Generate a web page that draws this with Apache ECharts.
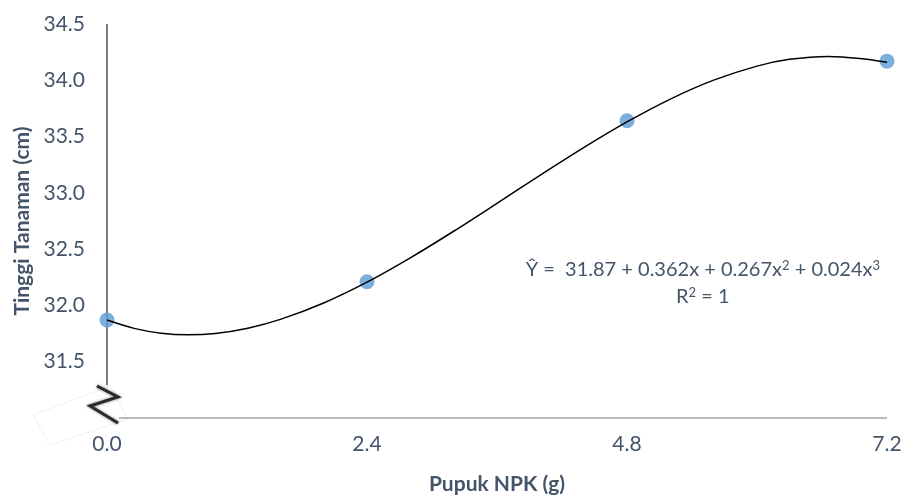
<!DOCTYPE html>
<html><head><meta charset="utf-8">
<script src="https://cdn.jsdelivr.net/npm/echarts@6/dist/echarts.min.js"></script>
<style>html,body{margin:0;padding:0;background:#fff}#c{width:906px;height:500px}</style>
</head><body><div id="c"></div>
<script>
// Observed data
const doseX = [0.0, 2.4, 4.8, 7.2];
const heightY = [31.87, 32.21, 33.64, 34.17];
// Trendline
const trendX = [0, 0.25, 0.5, 0.75, 1.0, 1.3, 1.6, 2.0, 2.4, 2.8, 3.2, 3.6, 4.0, 4.4, 4.8, 5.2, 5.6, 6.0, 6.3, 6.66, 6.95, 7.2];
const trendY = [31.87, 31.796, 31.753, 31.739, 31.751, 31.798, 31.876, 32.022, 32.207, 32.423, 32.659, 32.907, 33.158, 33.402, 33.63, 33.833, 34.001, 34.126, 34.186, 34.212, 34.194, 34.16];
const xTicks = [0, 2.4, 4.8, 7.2];
const yTicks = [31.5, 32.0, 32.5, 33.0, 33.5, 34.0, 34.5];
const xTitle = 'Pupuk NPK (g)';
const yTitle = 'Tinggi Tanaman (cm)';
const eqLine1 = 'Ŷ =  31.87 + 0.362x + 0.267x{s|2} + 0.024x{s|3}';
const eqLine2 = 'R{s|2} = 1';

const FONT = 'Lato, "Open Sans", sans-serif';
const TXT = '#44546a';
const chart = echarts.init(document.getElementById('c'), null, {renderer: 'canvas'});
const option = {
  animation: false,
  grid: {left: 107, right: 19, top: 24, bottom: 80},
  xAxis: {
    type: 'value', min: 0, max: 7.2, interval: 2.4,
    axisLine: {show: false}, axisTick: {show: false}, splitLine: {show: false},
    axisLabel: {color: TXT, fontSize: 21, fontFamily: FONT, margin: 16,
      formatter: v => xTicks.some(t => Math.abs(t - v) < 1e-6) ? v.toFixed(1) : ''},
    name: xTitle, nameLocation: 'middle', nameGap: 56,
    nameTextStyle: {color: TXT, fontSize: 21, fontWeight: 'bold', fontFamily: FONT}
  },
  yAxis: {
    type: 'value', min: 31, max: 34.5, interval: 0.5,
    axisLine: {show: false}, axisTick: {show: false}, splitLine: {show: false},
    axisLabel: {color: TXT, fontSize: 21, fontFamily: FONT, margin: 22,
      formatter: v => yTicks.some(t => Math.abs(t - v) < 1e-6) ? v.toFixed(1) : ''},
    name: yTitle, nameLocation: 'middle', nameGap: 74,
    nameTextStyle: {color: TXT, fontSize: 21, fontWeight: 'bold', fontFamily: FONT}
  },
  series: [
    {type: 'scatter', data: doseX.map((x, i) => [x, heightY[i]]), symbolSize: 15,
     itemStyle: {color: '#5b9bd5'}, z: 3},
    {type: 'line', data: trendX.map((x, i) => [x, trendY[i]]), smooth: 0.3, showSymbol: false,
     lineStyle: {color: '#000', width: 1.5}, z: 4, silent: true}
  ]
};
chart.setOption(option);

function drawExtras() {
  const top = chart.convertToPixel({yAxisIndex: 0}, 34.5);
  const brk = chart.convertToPixel({yAxisIndex: 0}, 31.3);
  const base = chart.convertToPixel({yAxisIndex: 0}, 31.0);
  const x0 = chart.convertToPixel({xAxisIndex: 0}, 0);
  const x1 = chart.convertToPixel({xAxisIndex: 0}, 7.2);
  const eqX = chart.convertToPixel({xAxisIndex: 0}, 5.5);
  const eqY = chart.convertToPixel({yAxisIndex: 0}, 32.315);
  const rich = {s: {fontSize: 13, fontFamily: FONT, fill: TXT, verticalAlign: 'top', lineHeight: 22}};
  chart.setOption({
    graphic: [
      {type: 'line', shape: {x1: x0, y1: top, x2: x0, y2: brk + 1}, style: {stroke: '#808080', lineWidth: 2}, z: 1},
      {type: 'line', shape: {x1: x0 + 12, y1: base, x2: x1, y2: base}, style: {stroke: '#a6a6a6', lineWidth: 1.5}, z: 1},
      {type: 'polygon', shape: {points: [[x0 - 74, base - 3], [x0 - 57, base + 27], [x0 + 21, base + 1], [x0 + 3, base - 32]]},
       style: {fill: 'rgba(0,0,0,0)', stroke: '#f0f0f0', lineWidth: 1}, z: 0},
      {type: 'polyline', shape: {points: [[x0 - 10, base - 32], [x0 + 11, base - 21], [x0 - 17, base - 12], [x0 + 11, base + 5]]},
       style: {stroke: '#2a2a2a', lineWidth: 3, shadowBlur: 3, shadowColor: 'rgba(0,0,0,0.5)'}, z: 2},
      {type: 'text', x: eqX, y: eqY, style: {text: eqLine1, fill: TXT, fontSize: 20, fontFamily: FONT, lineHeight: 22, align: 'center', verticalAlign: 'middle', rich: rich}},
      {type: 'text', x: eqX, y: eqY + 27, style: {text: eqLine2, fill: TXT, fontSize: 20, fontFamily: FONT, lineHeight: 22, align: 'center', verticalAlign: 'middle', rich: rich}}
    ]
  });
}
drawExtras();
</script></body></html>
